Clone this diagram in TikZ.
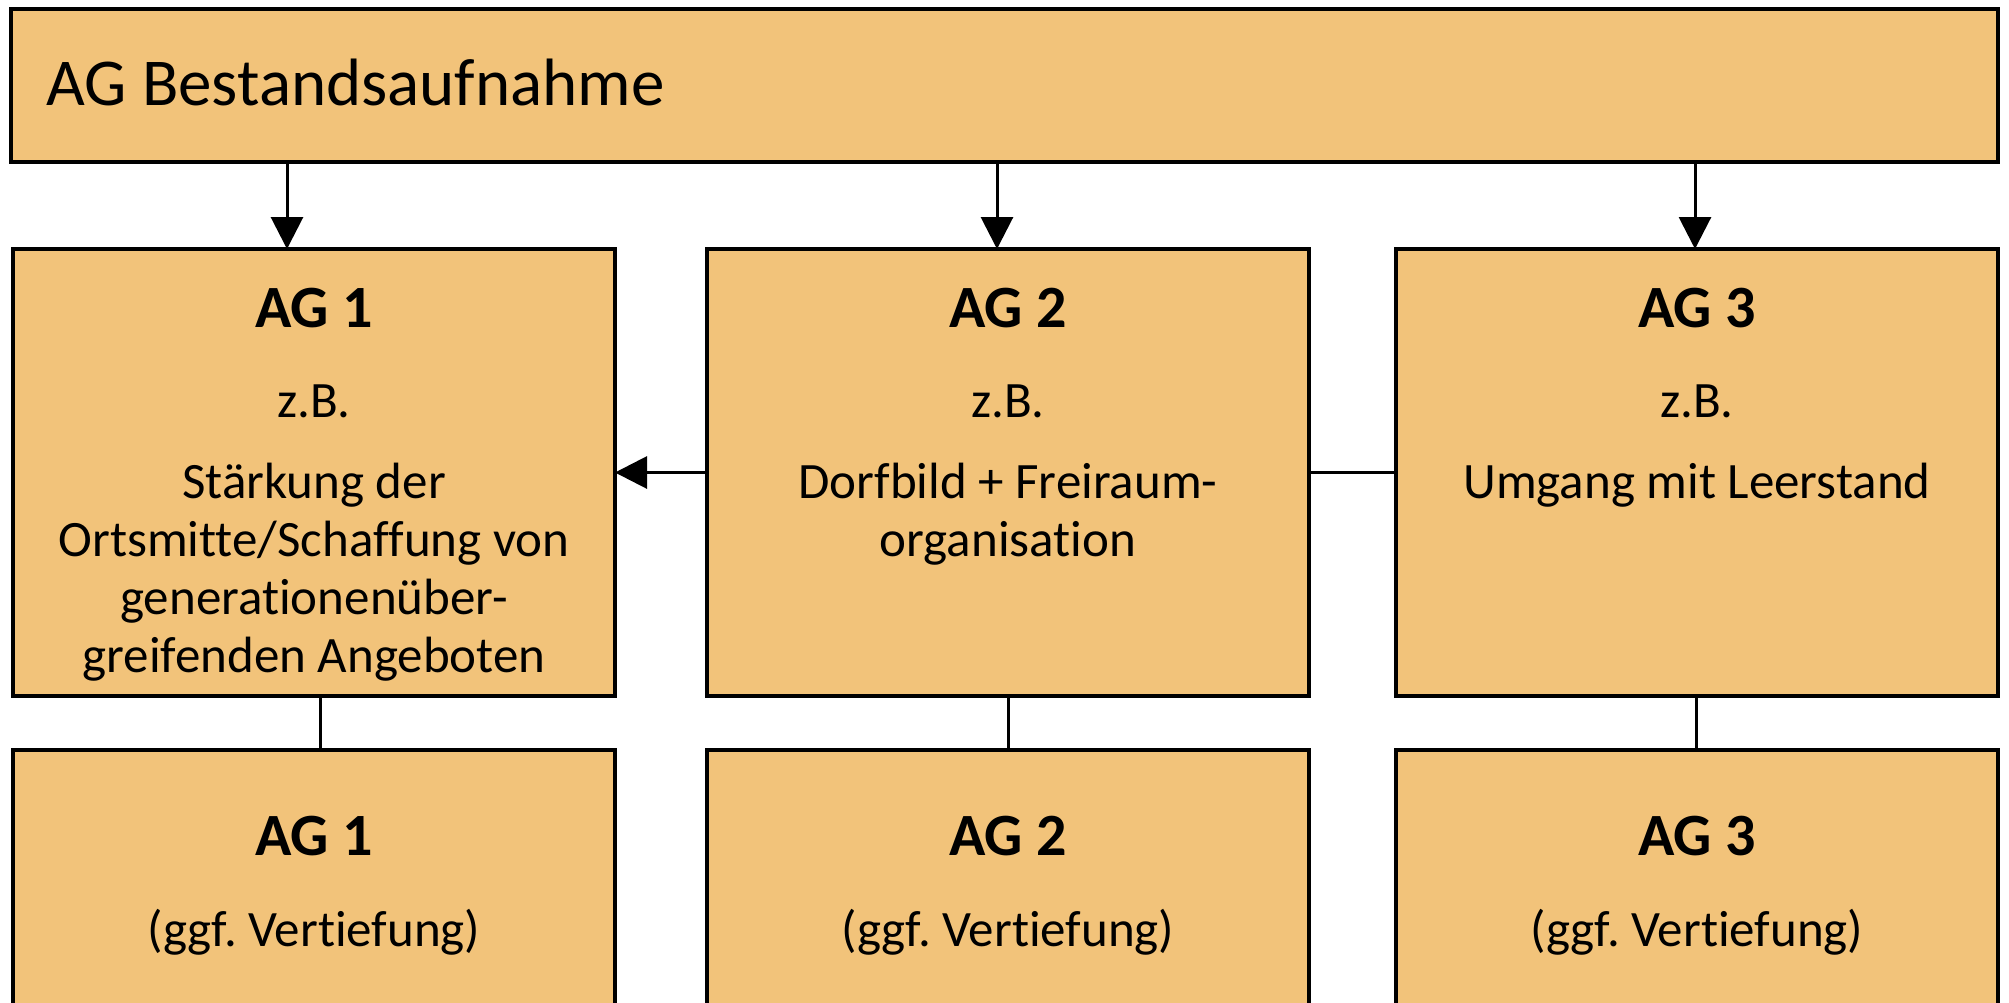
\documentclass[tikz,border=0pt]{standalone}
\usepackage{fontspec}
\setmainfont[Ligatures=CommonOff]{Carlito}
\usetikzlibrary{arrows.meta}
\definecolor{boxfill}{HTML}{F2C37A}
\frenchspacing
\begin{document}
\frenchspacing
\begin{tikzpicture}[x=0.5pt,y=-0.5pt,
  box/.style={draw=black, line width=1.75pt, fill=boxfill, rectangle, inner sep=0pt, outer sep=0pt, minimum width=301pt, minimum height=223.5pt},
  lowbox/.style={box, minimum height=200pt},
  conn/.style={line width=1.5pt, draw=black},
  arr/.style={conn, -{Triangle[length=16pt,width=16pt]}},
  ttl/.style={anchor=base, font=\bfseries\fontsize{30pt}{36pt}\selectfont, inner sep=0pt},
  txt/.style={anchor=base, font=\fontsize{25.5pt}{29pt}\selectfont, inner sep=0pt},
  head/.style={anchor=base west, font=\fontsize{33.5pt}{40pt}\selectfont, inner sep=0pt}]

\useasboundingbox (0,0) rectangle (2009,1002);
\clip (0,0) rectangle (2009,1002);
\fill[white] (0,0) rectangle (2009,1002);

% boxes
\node[box, minimum width=993.5pt, minimum height=76.5pt] (top) at (1004.5,85.5) {};
\node[box] (a1) at (314,472.5) {};
\node[box] (a2) at (1008,472.5) {};
\node[box] (a3) at (1697,472.5) {};
\node[lowbox] (b1) at (314,950) {};
\node[lowbox] (b2) at (1008,950) {};
\node[lowbox] (b3) at (1697,950) {};

% texts
\node[head] (th) at (46,105) {AG Bestandsaufnahme};

\node[ttl] (t1) at (314,327) {AG 1};
\node[txt] (z1) at (314,417) {z.B.};
\node[txt] (l11) at (314,498) {Stärkung der};
\node[txt] (l12) at (314,556) {Ortsmitte/Schaffung von};
\node[txt] (l13) at (314,614) {generationenüber-};
\node[txt] (l14) at (314,672) {greifenden Angeboten};

\node[ttl] (t2) at (1008,327) {AG 2};
\node[txt] (z2) at (1008,417) {z.B.};
\node[txt] (l21) at (1008,498) {Dorfbild + Freiraum-};
\node[txt] (l22) at (1008,556) {organisation};

\node[ttl] (t3) at (1697,327) {AG 3};
\node[txt] (z3) at (1697,417) {z.B.};
\node[txt] (l31) at (1697,498) {Umgang mit Leerstand};

\node[ttl] (u1) at (314,855) {AG 1};
\node[txt] (v1) at (314,946) {(ggf. Vertiefung)};
\node[ttl] (u2) at (1008,855) {AG 2};
\node[txt] (v2) at (1008,946) {(ggf. Vertiefung)};
\node[ttl] (u3) at (1697,855) {AG 3};
\node[txt] (v3) at (1697,946) {(ggf. Vertiefung)};

% connector x positions
\coordinate (x1) at (287,0);
\coordinate (x2) at (997,0);
\coordinate (x3) at (1695,0);
\coordinate (y1) at (320,0);
\coordinate (y2) at (1008,0);
\coordinate (y3) at (1696,0);

\draw[arr] (top.south -| x1) -- (a1.north -| x1);
\draw[arr] (top.south -| x2) -- (a2.north -| x2);
\draw[arr] (top.south -| x3) -- (a3.north -| x3);

\draw[arr] (a2.west) -- (a1.east);
\draw[conn] (a2.east) -- (a3.west);

\draw[conn] (a1.south -| y1) -- (b1.north -| y1);
\draw[conn] (a2.south -| y2) -- (b2.north -| y2);
\draw[conn] (a3.south -| y3) -- (b3.north -| y3);
\end{tikzpicture}
\end{document}
